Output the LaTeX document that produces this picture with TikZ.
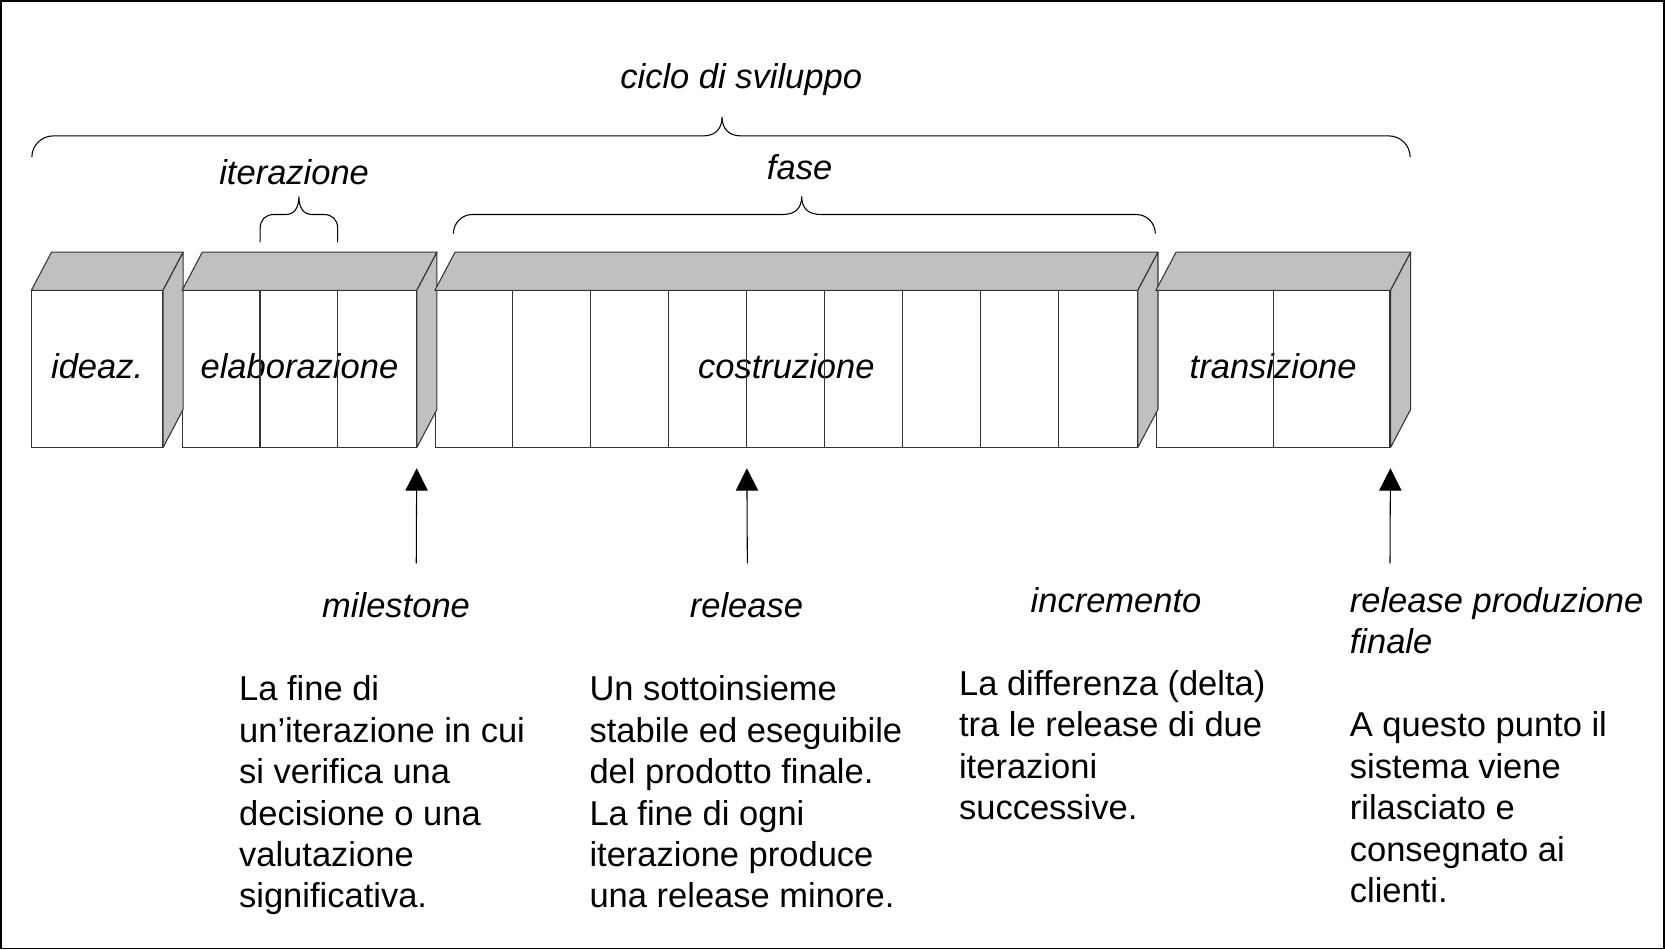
\documentclass[tikz,border=0pt]{standalone}
\usepackage{fontspec}
\setmainfont{Liberation Sans}
\usetikzlibrary{arrows.meta,calc}
\definecolor{grigio}{HTML}{C0C0C0}

\begin{document}
\begin{tikzpicture}
  [x=1pt,y=-1pt,
   every node/.style={font=\fontsize{32.5}{39}\selectfont,inner sep=0pt},
   etichetta/.style={font=\fontsize{32.5}{39}\selectfont\itshape},
   fronte/.style={etichetta,draw=black!80,fill=white,line width=1pt,minimum height=147pt,text depth=5pt},
   faccia/.style={draw=black!80,fill=grigio,line width=1pt,line join=round},
   divisore/.style={draw=black!80,line width=1pt},
   testo/.style={align=left,anchor=north west},
   graffa/.style={draw=black,line width=1pt},
   freccia/.style={-{Triangle[length=21pt,width=21pt]},line width=1pt,shorten >=19.5pt}]

  \useasboundingbox (0,0) rectangle (1568,894);
  \draw[line width=1.5pt] (0.75,0.75) rectangle (1567.25,893.25);

  % blocchi delle fasi
  \node[fronte,minimum width=123pt] (ideaz) at (91.5,347.5) {ideaz.};
  \node[fronte,minimum width=220pt] (elab) at (282,347.5) {elaborazione};
  \node[fronte,minimum width=661pt] (costr) at (740.5,347.5) {costruzione};
  \node[fronte,minimum width=220pt] (trans) at (1199,347.5) {transizione};
  \foreach \b in {ideaz,elab,costr,trans}{
    \filldraw[faccia] (\b.north west) -- ++(19,-36) -- ([shift={(19,-36)}]\b.north east) -- (\b.north east) -- cycle;
    \filldraw[faccia] (\b.north east) -- ++(19,-36) -- ([shift={(19,-36)}]\b.south east) -- (\b.south east) -- cycle;
  }

  % iterazioni
  \foreach \i in {1,2}
    \draw[divisore] ($(elab.north west)+(\i*73.33,0)$) -- ($(elab.south west)+(\i*73.33,0)$);
  \foreach \i in {1,...,8}
    \draw[divisore] ($(costr.north west)+(\i*73.44,0)$) -- ($(costr.south west)+(\i*73.44,0)$) coordinate (c\i);
  \draw[divisore] (trans.north) -- (trans.south);

  % graffe
  \draw[graffa] (30,148) .. controls (30,137) and (39,128) .. (50,128) -- (662,128)
    .. controls (674,128) and (680,121) .. (680,110) .. controls (680,121) and (686,128) .. (698,128)
    -- (1308,128) .. controls (1319,128) and (1328,137) .. (1328,148);
  \draw[graffa] (245,228) -- (245,215) .. controls (245,207) and (250,202) .. (258,202) -- (269,202)
    .. controls (277,202) and (281.5,196) .. (281.5,185) .. controls (281.5,196) and (286,202) .. (294,202)
    -- (305,202) .. controls (313,202) and (318,207) .. (318,215) -- (318,228);
  \draw[graffa] (427,220) .. controls (427,210) and (435,202) .. (445,202) -- (737,202)
    .. controls (749,202) and (755,196) .. (755,185) .. controls (755,196) and (761,202) .. (773,202)
    -- (1070,202) .. controls (1080,202) and (1088,210) .. (1088,220);

  \node[etichetta,anchor=base] (ciclo) at (698,83.5) {ciclo di sviluppo};
  \node[etichetta,anchor=base] (iter) at (277,173.75) {iterazione};
  \node[etichetta,anchor=base] (fase) at (753,168.75) {fase};

  % frecce
  \coordinate (pm) at (392,530.5);
  \coordinate (pr) at (703.8,530.5);
  \coordinate (pf) at (1309,530.5);
  \foreach \from/\to in {pm/elab.south east,pr/c4,pf/trans.south east}
    \draw[freccia] (\from) -- (\to);

  % etichette e spiegazioni
  \node[etichetta,anchor=base] (milestone) at (373,581.75) {milestone};
  \node[etichetta,anchor=base] (release) at (703,581.75) {release};
  \node[etichetta,anchor=base] (incr) at (1051,576.75) {incremento};
  \node[etichetta,testo] (finale) at (1271,553) {release produzione\\finale};

  \node[testo] (dmilestone) at (225,636.25) {La fine di\\un’iterazione in cui\\si verifica una\\decisione o una\\valutazione\\significativa.};
  \node[testo] (drelease) at (555,636.25) {Un sottoinsieme\\stabile ed eseguibile\\del prodotto finale.\\La fine di ogni\\iterazione produce\\una release minore.};
  \node[testo] (dincr) at (903,631.25) {La differenza (delta)\\tra le release di due\\iterazioni\\successive.};
  \node[testo] (dfinale) at (1271,670.25) {A questo punto il\\sistema viene\\rilasciato e\\consegnato ai\\clienti.};
\end{tikzpicture}
\end{document}
